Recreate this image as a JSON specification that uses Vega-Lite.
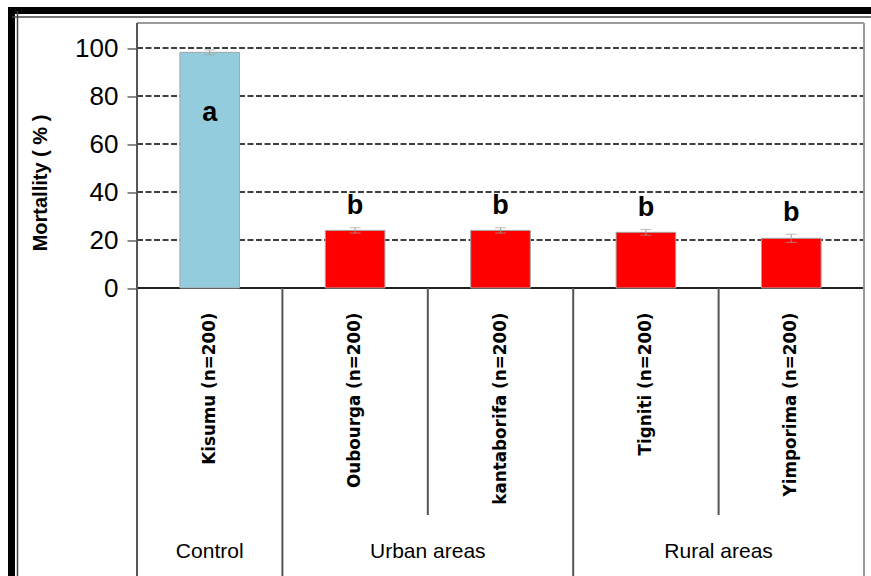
{
  "$schema": "https://vega.github.io/schema/vega-lite/v6.json",
  "width": 870.5,
  "height": 576.5,
  "autosize": {"type": "none"},
  "padding": {"left": 11.5, "top": 10.5, "right": -11, "bottom": -11},
  "background": "white",
  "config": {"view": {"stroke": "black", "strokeWidth": 7}},
  "datasets": {
    "sites": [
      {"site": "Kisumu (n=200)", "group": "Control", "mortality": 98.2, "lower": 97.2, "upper": 99.2, "letter": "a"},
      {"site": "Oubourga (n=200)", "group": "Urban areas", "mortality": 24.0, "lower": 22.9, "upper": 25.1, "letter": "b"},
      {"site": "kantaborifa (n=200)", "group": "Urban areas", "mortality": 24.0, "lower": 22.9, "upper": 25.1, "letter": "b"},
      {"site": "Tigniti (n=200)", "group": "Rural areas", "mortality": 23.2, "lower": 22.0, "upper": 24.4, "letter": "b"},
      {"site": "Yimporima (n=200)", "group": "Rural areas", "mortality": 20.7, "lower": 19.0, "upper": 22.4, "letter": "b"}
    ],
    "grid": [{"level": 20}, {"level": 40}, {"level": 60}, {"level": 80}, {"level": 100}]
  },
  "data": {"name": "sites"},
  "layer": [
    {
      "data": {"name": "grid"},
      "mark": {"type": "rule", "color": "black", "strokeWidth": 1.4, "strokeDash": [6, 2.5]},
      "encoding": {
        "x": {
          "datum": "Kisumu (n=200)", "bandPosition": 0, "type": "nominal",
          "scale": {
            "domain": ["Kisumu (n=200)", "Oubourga (n=200)", "kantaborifa (n=200)", "Tigniti (n=200)", "Yimporima (n=200)"],
            "paddingInner": 0, "paddingOuter": 0.4935, "align": 0.8746
          },
          "axis": null
        },
        "x2": {"datum": "Yimporima (n=200)", "bandPosition": 1},
        "y": {
          "field": "level", "type": "quantitative",
          "scale": {"domain": [-124.583, 115.625], "nice": false, "zero": false},
          "axis": null
        }
      }
    },
    {
      "mark": {"type": "rule", "color": "#9a9a9a", "strokeWidth": 2},
      "encoding": {
        "x": {
          "datum": "Kisumu (n=200)", "bandPosition": 0, "type": "nominal",
          "axis": {"orient": "top", "offset": -6, "domain": true, "domainColor": "#444", "domainWidth": 1.5, "ticks": false, "labels": false, "grid": false, "title": null}
        },
        "x2": {"datum": "Yimporima (n=200)", "bandPosition": 1},
        "y": {
          "datum": 110.4, "type": "quantitative",
          "axis": {"orient": "left", "offset": -5.5, "domain": true, "domainColor": "#444", "domainWidth": 1.5, "ticks": false, "labels": false, "grid": false, "title": null}
        }
      }
    },
    {
      "mark": {"type": "rule", "color": "#222", "strokeWidth": 1.5},
      "encoding": {
        "x": {"datum": "Kisumu (n=200)", "bandPosition": 0, "type": "nominal", "axis": null},
        "x2": {"datum": "Yimporima (n=200)", "bandPosition": 1},
        "y": {"datum": 0, "type": "quantitative", "axis": null}
      }
    },
    {
      "mark": {"type": "bar", "width": {"band": 0.41}, "stroke": "#a6a6a6", "strokeWidth": 1},
      "encoding": {
        "x": {
          "field": "site", "type": "nominal", "sort": null,
          "axis": {
            "orient": "bottom", "offset": -299, "domain": false, "ticks": false, "grid": false,
            "labelAngle": 270, "labelPadding": 24, "labelFont": "DejaVu Sans", "labelFontWeight": "bold",
            "labelFontSize": 16.8, "labelColor": "black", "labelLimit": 400, "labelOverlap": false, "title": null
          }
        },
        "y": {
          "field": "mortality", "type": "quantitative",
          "axis": {
            "orient": "left", "offset": -125.5, "values": [0, 20, 40, 60, 80, 100],
            "domain": false, "grid": false, "tickSize": 10, "tickColor": "#666", "tickWidth": 1.5,
            "labelFont": "Liberation Sans", "labelFontSize": 26, "labelColor": "black", "labelPadding": 9,
            "title": "Mortallity ( % )", "titleFont": "Liberation Sans", "titleFontWeight": "bold",
            "titleFontSize": 20, "titleColor": "black", "titleX": -97, "titleY": 172,
            "titleAngle": 270, "titleBaseline": "middle", "titleAlign": "center"
          }
        },
        "y2": {"datum": 0},
        "color": {
          "field": "group", "type": "nominal",
          "scale": {"domain": ["Control", "Urban areas", "Rural areas"], "range": ["#93cddd", "#ff0000", "#ff0000"]},
          "legend": null
        }
      }
    },
    {
      "mark": {"type": "errorbar", "color": "#a0a0a0", "ticks": {"size": 11, "color": "#a0a0a0"}},
      "encoding": {
        "x": {"field": "site", "type": "nominal", "axis": null},
        "y": {"field": "lower", "type": "quantitative", "axis": null},
        "y2": {"field": "upper"}
      }
    },
    {
      "transform": [{"filter": "datum.group === 'Control'"}],
      "mark": {"type": "text", "font": "Liberation Sans", "fontWeight": "bold", "fontSize": 27, "color": "black", "baseline": "middle", "dy": 63},
      "encoding": {
        "x": {"field": "site", "type": "nominal", "axis": null},
        "y": {"field": "upper", "type": "quantitative", "axis": null},
        "text": {"field": "letter"}
      }
    },
    {
      "transform": [{"filter": "datum.group !== 'Control'"}],
      "mark": {"type": "text", "font": "Liberation Sans", "fontWeight": "bold", "fontSize": 27, "color": "black", "baseline": "middle", "dy": -21.5},
      "encoding": {
        "x": {"field": "site", "type": "nominal", "axis": null},
        "y": {"field": "upper", "type": "quantitative", "axis": null},
        "text": {"field": "letter"}
      }
    },
    {
      "transform": [{"filter": {"field": "site", "equal": "Kisumu (n=200)"}}],
      "mark": {"type": "rule", "color": "#555", "strokeWidth": 2},
      "encoding": {
        "x": {"field": "site", "type": "nominal", "bandPosition": 0, "axis": null},
        "y": {"datum": 110.4, "type": "quantitative", "axis": null},
        "y2": {"datum": -124}
      }
    },
    {
      "transform": [{"filter": {"field": "site", "oneOf": ["Oubourga (n=200)", "Tigniti (n=200)"]}}],
      "mark": {"type": "rule", "color": "#555", "strokeWidth": 2},
      "encoding": {
        "x": {"field": "site", "type": "nominal", "bandPosition": 0, "axis": null},
        "y": {"datum": 0, "type": "quantitative", "axis": null},
        "y2": {"datum": -124}
      }
    },
    {
      "transform": [{"filter": {"field": "site", "oneOf": ["kantaborifa (n=200)", "Yimporima (n=200)"]}}],
      "mark": {"type": "rule", "color": "#555", "strokeWidth": 2},
      "encoding": {
        "x": {"field": "site", "type": "nominal", "bandPosition": 0, "axis": null},
        "y": {"datum": 0, "type": "quantitative", "axis": null},
        "y2": {"datum": -94.6}
      }
    },
    {
      "transform": [{"filter": {"field": "site", "equal": "Yimporima (n=200)"}}],
      "mark": {"type": "rule", "color": "#9a9a9a", "strokeWidth": 2},
      "encoding": {
        "x": {"field": "site", "type": "nominal", "bandPosition": 1, "axis": null},
        "y": {"datum": 110.4, "type": "quantitative", "axis": null},
        "y2": {"datum": -124}
      }
    },
    {
      "transform": [{"filter": {"field": "site", "equal": "Kisumu (n=200)"}}],
      "mark": {"type": "text", "font": "Liberation Sans", "fontSize": 21, "color": "black", "baseline": "alphabetic", "align": "center"},
      "encoding": {
        "x": {"field": "site", "type": "nominal", "bandPosition": 0.5, "axis": null},
        "y": {"datum": -112.5, "type": "quantitative", "axis": null},
        "text": {"field": "group"}
      }
    },
    {
      "transform": [{"filter": {"field": "site", "oneOf": ["kantaborifa (n=200)", "Yimporima (n=200)"]}}],
      "mark": {"type": "text", "font": "Liberation Sans", "fontSize": 21, "color": "black", "baseline": "alphabetic", "align": "center"},
      "encoding": {
        "x": {"field": "site", "type": "nominal", "bandPosition": 0, "axis": null},
        "y": {"datum": -112.5, "type": "quantitative", "axis": null},
        "text": {"field": "group"}
      }
    }
  ],
  "resolve": {"axis": {"x": "independent", "y": "independent"}}
}
